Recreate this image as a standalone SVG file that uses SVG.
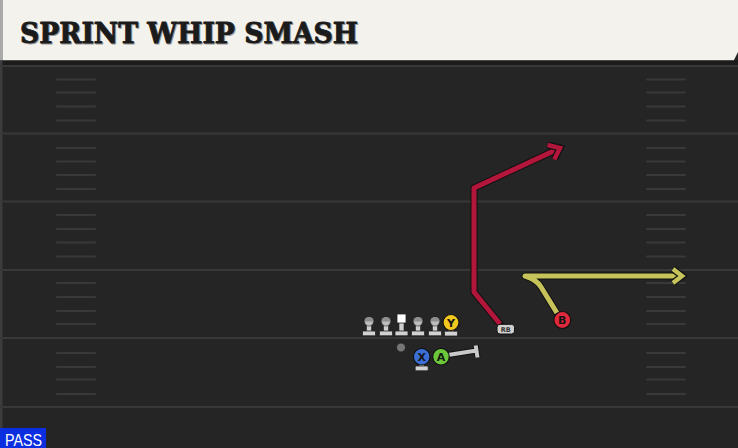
<svg xmlns="http://www.w3.org/2000/svg" width="738" height="448" viewBox="0 0 738 448">
<defs>
<style>
.yard{stroke:#383838;stroke-width:2}
.hash{stroke:#393939;stroke-width:2;stroke-linecap:round}
.out{fill:none;stroke:#111;stroke-width:7;stroke-linejoin:round;stroke-linecap:round}
.red{fill:none;stroke:#b3163b;stroke-width:5;stroke-linejoin:round}
.yel{fill:none;stroke:#c6c35b;stroke-width:5;stroke-linejoin:round}
.blk{fill:none;stroke:#c9c9c9;stroke-width:4;stroke-linecap:butt}
.lbl{font-family:"DejaVu Sans","Liberation Sans",sans-serif;font-weight:bold;font-size:11px;fill:#151515;text-anchor:middle}
.ring{stroke:#111;stroke-width:1.2}
.stand{fill:#d2d2d2;stroke:#222;stroke-width:0.8}
.ttl{font-family:"DejaVu Serif","Liberation Serif",serif;font-weight:bold;font-size:28.5px;stroke-width:0.9;stroke-linejoin:round}
</style>
<symbol id="lineman" overflow="visible">
<rect x="-2.5" y="-1" width="5" height="11" fill="#cfcfcf" stroke="#222" stroke-width="0.6"/>
<rect x="-6.5" y="9.5" width="13" height="4.8" rx="1" class="stand"/>
<circle cx="0" cy="0" r="4.6" fill="#bdbdbd" stroke="#222" stroke-width="0.6"/>
<path d="M-4.6,0 A4.6,4.6 0 0 1 4.6,0 Z" fill="#8e8e8e"/>
</symbol>
<marker id="arR" markerUnits="userSpaceOnUse" markerWidth="24" markerHeight="24" refX="12" refY="12" orient="auto" overflow="visible">
<path d="M2,4 L12,12 L2,20" fill="none" stroke="#111" stroke-width="7" stroke-linejoin="miter"/>
<path d="M2,4 L12,12 L2,20" fill="none" stroke="#b3163b" stroke-width="4.5" stroke-linejoin="miter"/>
</marker>
<marker id="arY" markerUnits="userSpaceOnUse" markerWidth="24" markerHeight="24" refX="12" refY="12" orient="auto" overflow="visible">
<path d="M3,5 L12,12 L3,19" fill="none" stroke="#111" stroke-width="7" stroke-linejoin="miter"/>
<path d="M3,5 L12,12 L3,19" fill="none" stroke="#c6c35b" stroke-width="4.5" stroke-linejoin="miter"/>
</marker>
</defs>

<!-- field -->
<rect x="0" y="0" width="738" height="448" fill="#252525"/>
<rect x="0" y="60" width="738" height="5" fill="#1c1c1c"/>
<rect x="0" y="60" width="2.5" height="388" fill="#3c3c3c"/>
<g id="yardlines">
<line class="yard" x1="0" y1="66" x2="738" y2="66"/>
<line class="yard" x1="0" y1="133.5" x2="738" y2="133.5"/>
<line class="yard" x1="0" y1="201.5" x2="738" y2="201.5"/>
<line class="yard" x1="0" y1="270" x2="738" y2="270"/>
<line class="yard" x1="0" y1="338" x2="738" y2="338"/>
<line class="yard" x1="0" y1="407" x2="738" y2="407"/>
</g>
<g id="hashes">
<g id="hashrow">
<line class="hash" x1="57" y1="79.5" x2="95" y2="79.5"/><line class="hash" x1="57" y1="92.5" x2="95" y2="92.5"/><line class="hash" x1="57" y1="106.5" x2="95" y2="106.5"/><line class="hash" x1="57" y1="120.5" x2="95" y2="120.5"/>
<line class="hash" x1="57" y1="148" x2="95" y2="148"/><line class="hash" x1="57" y1="161.5" x2="95" y2="161.5"/><line class="hash" x1="57" y1="175" x2="95" y2="175"/><line class="hash" x1="57" y1="189" x2="95" y2="189"/>
<line class="hash" x1="57" y1="215" x2="95" y2="215"/><line class="hash" x1="57" y1="229" x2="95" y2="229"/><line class="hash" x1="57" y1="242.5" x2="95" y2="242.5"/><line class="hash" x1="57" y1="256.5" x2="95" y2="256.5"/>
<line class="hash" x1="57" y1="283" x2="95" y2="283"/><line class="hash" x1="57" y1="297" x2="95" y2="297"/><line class="hash" x1="57" y1="311" x2="95" y2="311"/><line class="hash" x1="57" y1="324" x2="95" y2="324"/>
<line class="hash" x1="57" y1="353" x2="95" y2="353"/><line class="hash" x1="57" y1="367" x2="95" y2="367"/><line class="hash" x1="57" y1="379.5" x2="95" y2="379.5"/><line class="hash" x1="57" y1="394" x2="95" y2="394"/>
</g>
<use href="#hashrow" x="590" y="0"/>
</g>

<!-- title bar -->
<g id="title">
<path d="M0,0 H738 V52 L734,60 H0 Z" fill="#f4f2ec"/>
<rect x="0" y="0" width="3" height="60" fill="#a9a9a9"/>
<line x1="0" y1="60.5" x2="734" y2="60.5" stroke="#4a4a4a" stroke-width="1"/>
<text class="ttl" x="21" y="43.5" fill="#9a9a9a" stroke="#9a9a9a" textLength="338" lengthAdjust="spacingAndGlyphs">SPRINT WHIP SMASH</text>
<text class="ttl" x="20" y="42.5" fill="#1b1b1b" stroke="#1b1b1b" textLength="338" lengthAdjust="spacingAndGlyphs">SPRINT WHIP SMASH</text>
</g>

<!-- connectors -->
<g id="connectors">
<path class="out" d="M500,324 L474,292 L474,188 L560,148"/>
<path class="red" d="M500,324 L474,292 L474,188 L560,148" marker-end="url(#arR)"/>
<path class="out" d="M557,313 L541,287 Q536,279 525,276 L682,276"/>
<path class="yel" d="M557,313 L541,287 Q536,279 525,276 L682,276" marker-end="url(#arY)"/>
<path d="M448,355 L476.5,350.5 M475.7,345.5 L477.5,357.5" fill="none" stroke="#111" stroke-width="6"/>
<path class="blk" d="M448,355 L476.5,350.5 M475.7,345.5 L477.5,357.5"/>
</g>

<!-- offensive line -->
<g id="lt"><use href="#lineman" x="369" y="321.5"/></g>
<g id="lg"><use href="#lineman" x="386" y="321.5"/></g>
<g id="c">
<rect x="399" y="320" width="5" height="12" fill="#cfcfcf" stroke="#222" stroke-width="0.6"/>
<rect x="395" y="331" width="13" height="4.8" rx="1" class="stand"/>
<rect x="397" y="314" width="9" height="9" fill="#ffffff" stroke="#222" stroke-width="0.8"/>
</g>
<g id="rg"><use href="#lineman" x="418" y="321.5"/></g>
<g id="rt"><use href="#lineman" x="435" y="321.5"/></g>

<g id="y">
<rect x="448.5" y="329" width="5" height="3" fill="#cfcfcf"/>
<rect x="444.5" y="331.2" width="13" height="4.8" rx="1" class="stand"/>
<circle cx="451" cy="322.5" r="8" fill="#f2c81f" class="ring"/>
<text class="lbl" x="451" y="326.5">Y</text>
</g>

<g id="qb"><circle cx="401" cy="347.5" r="4.5" fill="#767676" stroke="#1a1a1a" stroke-width="0.8"/></g>

<g id="x">
<rect x="419.2" y="364" width="5" height="3" fill="#cfcfcf"/>
<rect x="415.2" y="366" width="13" height="4.8" rx="1" class="stand"/>
<circle cx="421.7" cy="356.7" r="8.3" fill="#3b6fd6" class="ring"/>
<text class="lbl" x="421.7" y="360.7">X</text>
</g>

<g id="a">
<circle cx="441" cy="356.7" r="8.3" fill="#6cc83a" class="ring"/>
<text class="lbl" x="441" y="360.7">A</text>
</g>

<g id="rb">
<rect x="497" y="324.3" width="17.5" height="9.7" rx="3" fill="#cfcfcf" stroke="#111" stroke-width="1"/>
<text x="505.7" y="331.8" font-family="'DejaVu Sans','Liberation Sans',sans-serif" font-weight="bold" font-size="6.5" fill="#333" text-anchor="middle">RB</text>
</g>

<g id="b">
<circle cx="562.3" cy="320" r="8.5" fill="#e0283c" class="ring"/>
<text class="lbl" x="562.3" y="324">B</text>
</g>

<g id="pass">
<rect x="0" y="428" width="46" height="20" fill="#0b2fe0"/>
<text x="5" y="445.5" font-family="'Liberation Sans',Arial,sans-serif" font-size="17" fill="#ffffff" textLength="37" lengthAdjust="spacingAndGlyphs">PASS</text>
</g>
</svg>
